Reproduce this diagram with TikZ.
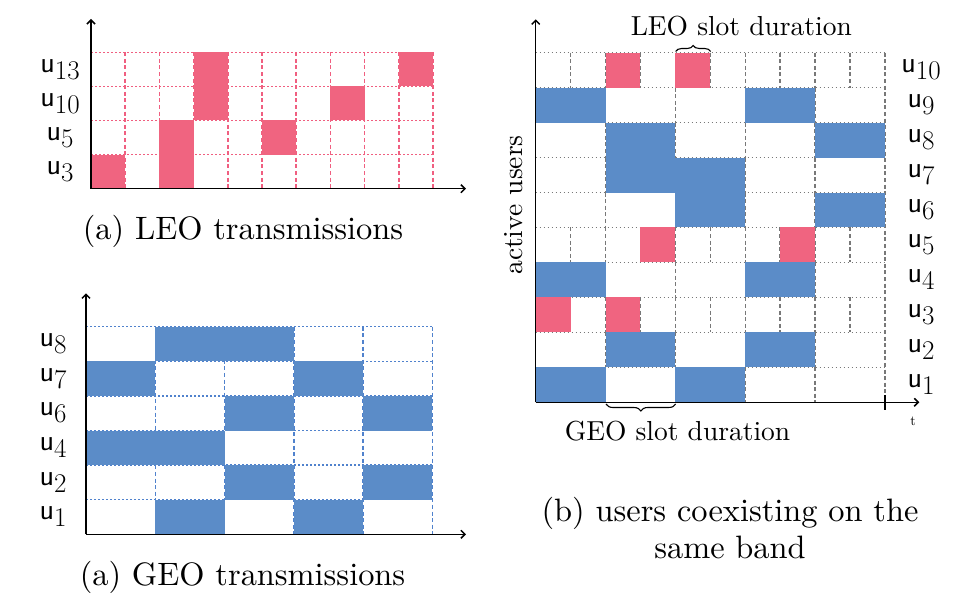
\documentclass[tikz,border=0pt]{standalone}
\usepackage{graphicx}
\usetikzlibrary{decorations.pathreplacing,arrows.meta}
\definecolor{leo}{RGB}{240,100,128}
\definecolor{geo}{RGB}{91,140,200}
\definecolor{leogrid}{RGB}{240,95,128}
\definecolor{geogrid}{RGB}{80,130,205}
\definecolor{gridgray}{RGB}{120,120,120}
\newcommand{\ulab}[1]{{\fontsize{30}{36}\selectfont\sffamily u}\raisebox{-7pt}{\fontsize{27}{32}\selectfont #1}}
\newcommand{\captext}[1]{\scalebox{3.24}{\fontsize{10}{12}\selectfont #1}}
\newcommand{\lbltext}[1]{\scalebox{2.75}{\fontsize{10}{12}\selectfont #1}}
\begin{document}
\begin{tikzpicture}[x=1pt,y=-1pt,
  hdot/.style={line width=1.5pt, dash pattern=on 1.5pt off 2.5pt},
  vdash/.style={line width=1.5pt, dash pattern=on 4pt off 2.6pt},
  axis/.style={line width=1.5pt, -{Straight Barb[length=4pt,width=8pt]}},
  ulbl/.style={inner sep=0pt, anchor=center},
  brc/.style={line width=1.1pt, decorate},
  captxt/.style={inner sep=0pt, anchor=base}]
\useasboundingbox (0,0) rectangle (972,604);

% ---------------- LEO panel (top-left) ----------------
\foreach \k in {1,...,4}
  \draw[hdot,leogrid] (91,{188.7-\k*34.1}) -- (433,{188.7-\k*34.1});
\foreach \c in {1,...,10}
  \draw[vdash,leogrid] ({91+\c*34.2},52.3) -- ({91+\c*34.2},188.7);
\foreach \c/\r in {0/0,2/0,2/1,3/2,3/3,5/1,7/2,9/3}
  \fill[leo] ({91+\c*34.2},{188.7-(\r+1)*34.1}) rectangle ++(34.2,34.1);
\coordinate (Lo) at (91,188.7);
\coordinate (Ly) at (91,19);
\coordinate (Lx) at (466,188.7);
\draw[axis] (Lo) -- (Ly);
\draw[axis] (Lo) -- (Lx);
\node[ulbl] (l3) at (60,171.7) {\ulab{3}};
\node[ulbl] (l5) at (60,137.6) {\ulab{5}};
\node[ulbl] (l10) at (60,103.5) {\ulab{10}};
\node[ulbl] (l13) at (60,69.4) {\ulab{13}};
\node[captxt] (capa1) at (243,239.5) {\captext{(a) LEO transmissions}};

% ---------------- GEO panel (bottom-left) ----------------
\foreach \k in {1,...,6}
  \draw[hdot,geogrid] (86,{534.3-\k*34.6}) -- (432.25,{534.3-\k*34.6});
\foreach \c in {1,...,5}
  \draw[vdash,geogrid] ({86+\c*69.25},326.7) -- ({86+\c*69.25},534.3);
\foreach \c/\r in {1/0,3/0,2/1,4/1,0/2,1/2,2/3,4/3,0/4,3/4,1/5,2/5}
  \fill[geo] ({86+\c*69.25},{534.3-(\r+1)*34.6}) rectangle ++(69.25,34.6);
\coordinate (Go) at (86,534.3);
\coordinate (Gy) at (86,293.3);
\coordinate (Gx) at (466,534.3);
\draw[axis] (Go) -- (Gy);
\draw[axis] (Go) -- (Gx);
\foreach \r/\u in {0/1,1/2,2/4,3/6,4/7,5/8}
  \node[ulbl] (g\u) at (53,{534.3-(\r+0.5)*34.6}) {\ulab{\u}};
\node[captxt] (capa2) at (242.5,585) {\captext{(a) GEO transmissions}};

% ---------------- Coexistence panel (right) ----------------
\foreach \k in {1,...,10}
  \draw[hdot,gridgray] (535.7,{402.3-\k*34.96}) -- (885,{402.3-\k*34.96});
% GEO rows: boundaries every two LEO slots
\foreach \r in {0,1,3,5,6,7,8}
  \foreach \c in {2,4,6,8}
    \draw[vdash,gridgray] ({535.7+\c*34.93},{402.3-(\r+1)*34.96}) -- ({535.7+\c*34.93},{402.3-\r*34.96});
% LEO rows: boundaries every LEO slot
\foreach \r in {2,4,9}
  \foreach \c in {1,...,9}
    \draw[vdash,gridgray] ({535.7+\c*34.93},{402.3-(\r+1)*34.96}) -- ({535.7+\c*34.93},{402.3-\r*34.96});
\draw[vdash,gridgray] (885,52.7) -- (885,402.3);
\foreach \g/\r in {0/0,2/0,1/1,3/1,0/3,3/3,2/5,4/5,1/6,2/6,1/7,4/7,0/8,3/8}
  \fill[geo] ({535.7+\g*69.86},{402.3-(\r+1)*34.96}) rectangle ++(69.86,34.96);
\foreach \c/\r in {0/2,2/2,3/4,7/4,2/9,4/9}
  \fill[leo] ({535.7+\c*34.93},{402.3-(\r+1)*34.96}) rectangle ++(34.93,34.96);
\coordinate (Ro) at (535.7,402.3);
\coordinate (Ry) at (535.7,19.3);
\coordinate (Rx) at (919.3,402.3);
\coordinate (Tt) at (885,395);
\coordinate (Tb) at (885,410);
\draw[axis] (Ro) -- (Ry);
\draw[axis] (Ro) -- (Rx);
\draw[line width=1.5pt] (Tt) -- (Tb);
\node[inner sep=0pt] (tlab) at (913,421) {\scalebox{1.4}{\fontsize{10}{12}\selectfont t}};
\foreach \r in {1,...,10}
  \node[ulbl] (r\r) at (921,{402.3-(\r-0.5)*34.96}) {\ulab{\r}};
\node[inner sep=0pt, rotate=90] (act) at (514,205) {\lbltext{active users}};
% braces
\coordinate (bl1) at (675.7,51.5);
\coordinate (bl2) at (710.7,51.5);
\draw[brc, decoration={brace,amplitude=6pt}] (bl1) -- (bl2);
\node[inner sep=0pt, anchor=base] (leoslot) at (741.3,35.5) {\lbltext{LEO slot duration}};
\coordinate (bg1) at (675.7,404);
\coordinate (bg2) at (606,404);
\draw[brc, decoration={brace,amplitude=7pt}] (bg1) -- (bg2);
\node[inner sep=0pt, anchor=base] (geoslot) at (677.5,440) {\lbltext{GEO slot duration}};
\node[captxt] (capb1) at (730,521.7) {\captext{(b) users coexisting on the}};
\node[captxt] (capb2) at (730,558.7) {\captext{same band}};
\end{tikzpicture}
\end{document}
